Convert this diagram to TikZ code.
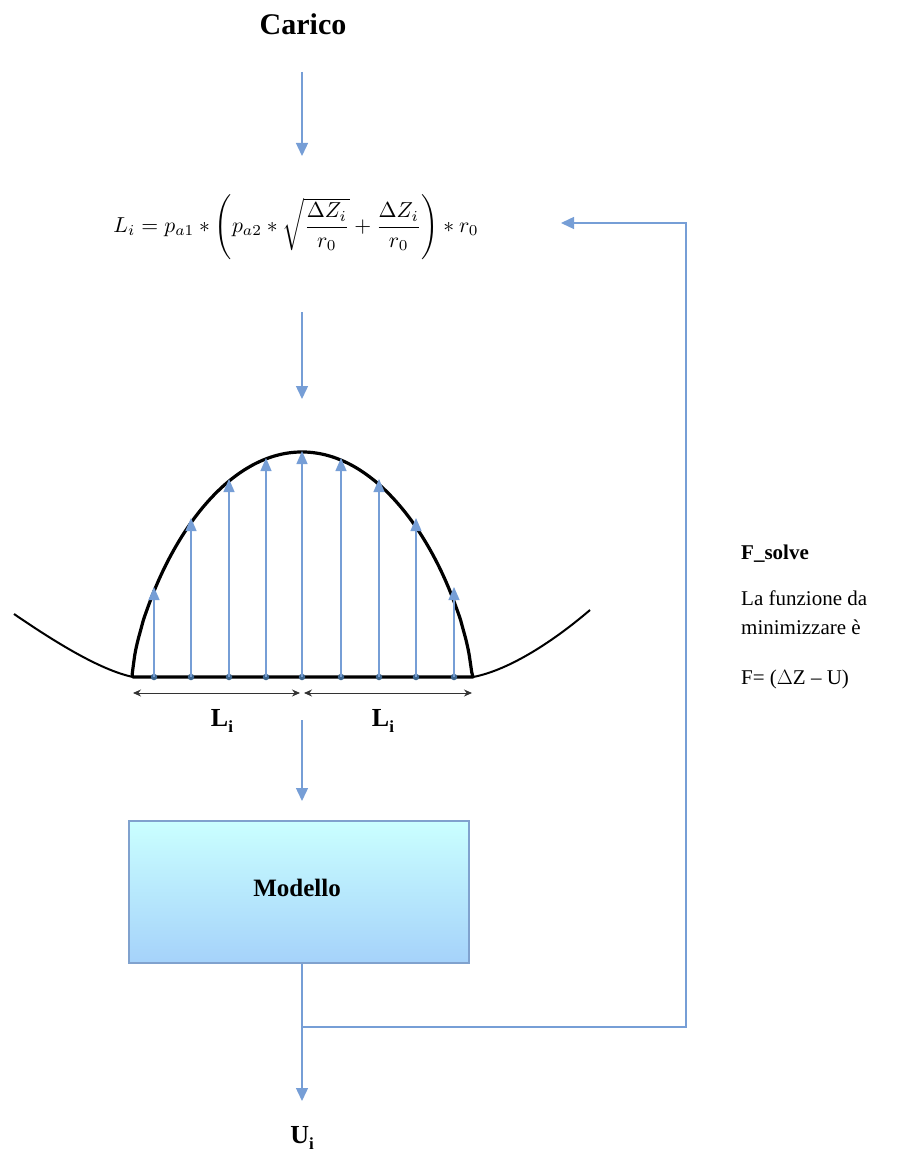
\documentclass[tikz,border=0pt]{standalone}
\usepackage{fontspec}
\usepackage{amsmath}
\usepackage{graphicx}
\setmainfont{Liberation Serif}
\usetikzlibrary{arrows.meta}
\definecolor{flowblue}{RGB}{118,158,214}
\definecolor{dotblue}{RGB}{62,102,142}
\definecolor{boxedge}{RGB}{128,162,206}
\definecolor{boxtop}{RGB}{202,255,255}
\definecolor{boxbot}{RGB}{165,210,250}
\tikzset{
  flow/.style={draw=flowblue, line width=1.4pt, -{Triangle[length=13pt,width=12pt]}},
  loadarrow/.style={draw=flowblue, line width=1.3pt, -{Triangle[length=13pt,width=11pt]}},
  dimarrow/.style={draw=black!80, line width=0.9pt, {Stealth[length=8pt,width=7pt]}-{Stealth[length=8pt,width=7pt]}},
  boldlabel/.style={font=\bfseries\fontsize{26}{30}\selectfont, inner sep=0pt},
  sidetext/.style={font=\fontsize{21}{25}\selectfont, inner sep=0pt, anchor=base west},
  modelbox/.style={draw=boxedge, line width=1.3pt, top color=boxtop, bottom color=boxbot,
     minimum width=340pt, minimum height=142pt, inner sep=0pt},
  groundline/.style={line width=2pt, black},
  domeline/.style={line width=3.2pt, black},
  loaddot/.style={circle, fill=dotblue, inner sep=0pt, minimum size=6.5pt}
}
\begin{document}
\begin{tikzpicture}[x=1pt,y=-1pt]
\useasboundingbox (0,0) rectangle (897,1155);

% Title
\node[boldlabel, font=\bfseries\fontsize{30}{34}\selectfont] (carico) at (303,24) {Carico};

% Formula
\node[inner sep=0pt] (formula) at (296,227)
 {\resizebox{365pt}{!}{$\displaystyle L_i = p_{a1} \ast \left( p_{a2} \ast \sqrt{\frac{\Delta Z_i}{r_0}} + \frac{\Delta Z_i}{r_0} \right) \ast r_0$}};

% arrows between top items
\coordinate (a1s) at (302,72);
\coordinate (a1e) at (302,156);
\draw[flow] (a1s) -- (a1e);
\coordinate (a2s) at (302,312);
\coordinate (a2e) at (302,399);
\draw[flow] (a2s) -- (a2e);

% Ground curves
\coordinate (bl) at (133,677);
\coordinate (br) at (473,677);
\coordinate (gl) at (14,614);
\coordinate (gr) at (590,610);
\draw[groundline] (gl) .. controls (55,642) and (100,670) .. (bl);
\draw[groundline] (br) .. controls (510,670) and (555,640) .. (gr);

% Dome
\draw[domeline, line join=round]
  (bl) -- plot[domain=-0.9995:0.9995, samples=121, smooth]
    ({302+170*\x},{677-225*pow(1-\x*\x,0.68)}) -- (br) -- cycle;

% Load arrows
\foreach \px/\py [count=\k] in {154/587,191/518,229/479,266/458,302/451,341/458,379/479,416/518,454/587}{
  \node[loaddot] (d\k) at (\px,677) {};
  \coordinate (t\k) at (\px,\py);
  \draw[loadarrow] (d\k.center) -- (t\k);
}

% Dimension arrows
\coordinate (m1) at (133,693);
\coordinate (m2) at (300,693);
\coordinate (m3) at (304,693);
\coordinate (m4) at (472,693);
\draw[dimarrow] (m1) -- (m2);
\draw[dimarrow] (m3) -- (m4);
\node[boldlabel] (li1) at (222,721) {L\raisebox{-0.22em}{\fontsize{17}{20}\selectfont i}};
\node[boldlabel] (li2) at (383,721) {L\raisebox{-0.22em}{\fontsize{17}{20}\selectfont i}};

% arrow to model
\coordinate (a3s) at (302,720);
\coordinate (a3e) at (302,801);
\draw[flow] (a3s) -- (a3e);

% Model box
\node[modelbox] (modello) at (299,892) {};
\node[boldlabel, font=\bfseries\fontsize{25}{30}\selectfont] (modtxt) at (297,888) {Modello};

% output
\node[boldlabel] (ui) at (302,1138) {U\raisebox{-0.22em}{\fontsize{17}{20}\selectfont i}};
\coordinate (out) at (302,1101);
\coordinate (junc) at (302,1027);
\draw[flow] (modello.south -| junc) -- (out);

% feedback
\coordinate (fb1) at (686,1027);
\coordinate (fb2) at (686,223);
\coordinate (fb3) at (561,223);
\draw[flow] (junc) -- (fb1) -- (fb2) -- (fb3);

% side texts
\node[sidetext, font=\bfseries\fontsize{21}{25}\selectfont] (fs) at (741,559) {F\_solve};
\node[sidetext] (t1) at (741,605) {La funzione da};
\node[sidetext] (t2) at (741,634) {minimizzare è};
\node[sidetext] (t3) at (741,684) {F= ($\Delta$Z -- U)};
\end{tikzpicture}
\end{document}
